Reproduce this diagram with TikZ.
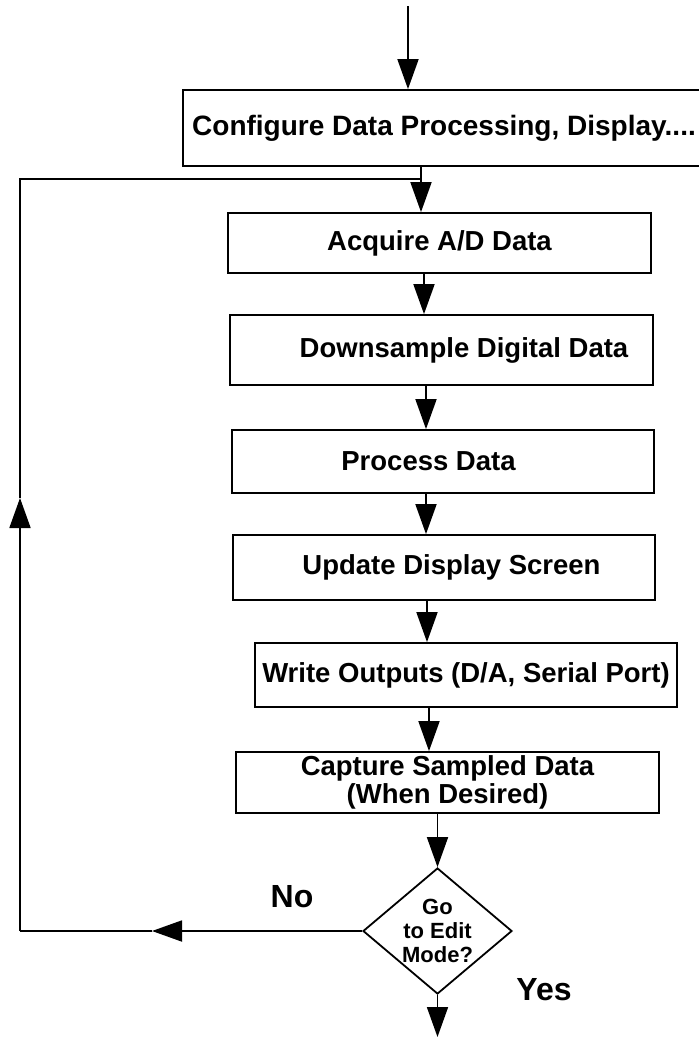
\documentclass[tikz,border=0pt]{standalone}
\usepackage{fontspec}
\setmainfont{Liberation Sans}
\usetikzlibrary{arrows.meta,shapes.geometric}
\begin{document}
\begin{tikzpicture}[x=1pt,y=-1pt,line width=1.8pt,
  box/.style={draw,rectangle,inner sep=0pt,font=\fontsize{27.5}{28}\selectfont\bfseries},
  decision/.style={draw,diamond,aspect=1.18,inner sep=-1pt,minimum width=149pt,minimum height=126pt,
    font=\fontsize{22}{24}\selectfont\bfseries,align=center},
  arr/.style={-{Triangle[length=30pt,width=21pt]}},
  lbl/.style={font=\fontsize{32}{34}\selectfont\bfseries}]
\useasboundingbox (0,0) rectangle (699,1037);
% boxes
\node[box,minimum width=527pt,minimum height=76pt,font=\fontsize{28}{30}\selectfont\bfseries] (cfg) at (446.5,128) {Configure Data Processing, Display....\hspace*{5pt}};
\node[box,minimum width=423pt,minimum height=60pt] (acq) at (439.5,243) {Acquire A/D Data};
\node[box,minimum width=423pt,minimum height=70pt] (dwn) at (441.5,350) {\hspace*{45pt}Downsample Digital Data};
\node[box,minimum width=422pt,minimum height=63pt] (proc) at (443,461.5) {Process Data\hspace*{29pt}};
\node[box,minimum width=422pt,minimum height=65pt] (upd) at (444,567.5) {\hspace*{15pt}Update Display Screen};
\node[box,minimum width=422pt,minimum height=64pt] (wout) at (466,675) {Write Outputs (D/A, Serial Port)};
\node[box,align=center,minimum width=423pt,minimum height=61pt] (cap) at (447.5,782.5) {Capture Sampled Data\\(When Desired)};
\node[decision] (d) at (437.5,931) {Go\\to Edit\\Mode?};
\node[lbl] (no) at (292,897) {No};
\node[lbl] (yes) at (544,990) {Yes};
% coordinates
\coordinate (start) at (408,6);
\coordinate (j) at (421,179);
\coordinate (lt) at (20,179);
\coordinate (upTip) at (20,498);
\coordinate (lb) at (20,931);
\coordinate (noTip) at (152,931);
\coordinate (a1) at (424,0);
\coordinate (a2) at (426,0);
\coordinate (a3) at (426,0);
\coordinate (a4) at (427,0);
\coordinate (a5) at (429,0);
\coordinate (fin) at (438,1037);
% connectors
\draw[arr] (start) -- (start |- cfg.north);
\draw[arr] (cfg.south -| j) -- (acq.north -| j);
\draw[arr] (acq.south -| a1) -- (dwn.north -| a1);
\draw[arr] (dwn.south -| a2) -- (proc.north -| a2);
\draw[arr] (proc.south -| a3) -- (upd.north -| a3);
\draw[arr] (upd.south -| a4) -- (wout.north -| a4);
\draw[arr] (wout.south -| a5) -- (cap.north -| a5);
\draw[arr] (cap.south -| d.north) -- (d.north);
\draw[arr] (d.south) -- (d.south |- fin);
\draw[arr] (d.west) -- (noTip);
\draw (noTip) -- (lb);
\draw[arr] (lb) -- (upTip);
\draw (upTip) -- (lt) -- (j);
\end{tikzpicture}
\end{document}
